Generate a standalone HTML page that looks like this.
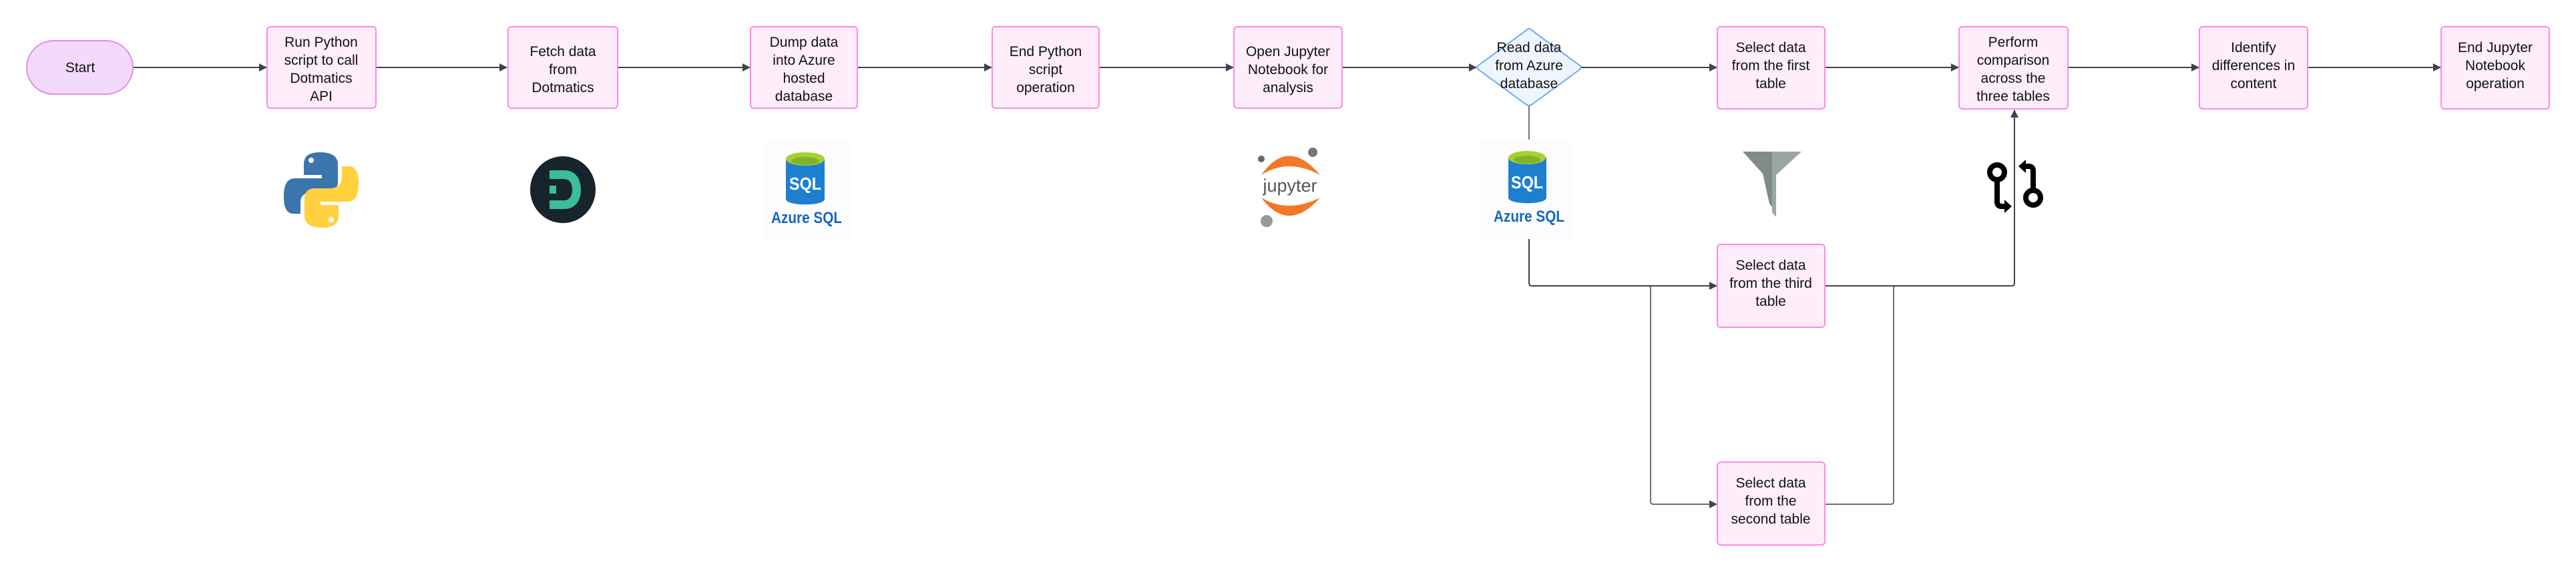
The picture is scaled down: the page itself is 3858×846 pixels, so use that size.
<!DOCTYPE html>
<html><head><meta charset="utf-8"><style>
html,body{margin:0;padding:0;background:#fff;}
svg{display:block;}
text{font-family:"Liberation Sans",sans-serif;font-size:21px;fill:#111;text-anchor:middle;}
</style></head><body>
<svg width="3858" height="846" viewBox="0 0 3858 846" xmlns="http://www.w3.org/2000/svg">
<defs>
<marker id="a" markerWidth="12" markerHeight="12" refX="11" refY="6" orient="auto" markerUnits="userSpaceOnUse">
<path d="M0,0 L12,6 L0,12 z" fill="#3a4450"/></marker>
</defs>
<g stroke="#3a4450" stroke-width="2" fill="none">
<line x1="199" y1="101" x2="399" y2="101" marker-end="url(#a)"/>
<line x1="563" y1="101" x2="759" y2="101" marker-end="url(#a)"/>
<line x1="925" y1="101" x2="1123" y2="101" marker-end="url(#a)"/>
<line x1="1284" y1="101" x2="1485" y2="101" marker-end="url(#a)"/>
<line x1="1646" y1="101" x2="1847" y2="101" marker-end="url(#a)"/>
<line x1="2010" y1="101" x2="2211" y2="101" marker-end="url(#a)"/>
<line x1="2368" y1="101" x2="2571" y2="101" marker-end="url(#a)"/>
<line x1="2733" y1="101" x2="2933" y2="101" marker-end="url(#a)"/>
<line x1="3097" y1="101" x2="3293" y2="101" marker-end="url(#a)"/>
<line x1="3456" y1="101" x2="3655" y2="101" marker-end="url(#a)"/>
<line x1="2290" y1="159" x2="2290" y2="209" stroke-width="1.5"/>
<path d="M2290,358 V424 Q2290,428 2294,428 H2571" marker-end="url(#a)"/>
<path d="M2468,428 Q2472,428 2472,432 V751 Q2472,755 2476,755 H2571" stroke-width="1.5" marker-end="url(#a)"/>
<path d="M2733,428 H3013 Q3017,428 3017,424 V165" marker-end="url(#a)"/>
<path d="M2733,755 H2832 Q2836,755 2836,751 V432 Q2836,428 2840,428" stroke-width="1.5"/>
</g>
<rect x="40" y="61" width="159" height="80" rx="40" fill="#f3d9fc" stroke="#e08cf2" stroke-width="2"/>
<text x="120" y="108">Start</text>
<g fill="#ffeefa" stroke="#ff88e6" stroke-width="2">
<rect x="400" y="40" width="163" height="122" rx="5"/>
<rect x="761" y="40" width="164" height="122" rx="5"/>
<rect x="1124" y="40" width="160" height="122" rx="5"/>
<rect x="1486" y="40" width="160" height="122" rx="5"/>
<rect x="1848" y="40" width="162" height="122" rx="5"/>
<rect x="2572" y="40" width="161" height="123" rx="5"/>
<rect x="2934" y="40" width="163" height="123" rx="5"/>
<rect x="3294" y="40" width="162" height="123" rx="5"/>
<rect x="3656" y="40" width="162" height="123" rx="5"/>
<rect x="2572" y="366" width="161" height="124" rx="5"/>
<rect x="2572" y="692" width="161" height="124" rx="5"/>
</g>
<path d="M2290,43 Q2293,43 2295,46 L2366,98 Q2369,101 2366,104 L2295,156 Q2290,160 2285,156 L2214,104 Q2211,101 2214,98 L2285,46 Q2287,43 2290,43 z" fill="#eef5ff" stroke="#6aaaf6" stroke-width="2"/>
<text x="481" y="70">Run Python</text><text x="481" y="97">script to call</text><text x="481" y="124">Dotmatics</text><text x="481" y="151">API</text>
<text x="843" y="84">Fetch data</text><text x="843" y="111">from</text><text x="843" y="138">Dotmatics</text>
<text x="1204" y="70">Dump data</text><text x="1204" y="97">into Azure</text><text x="1204" y="124">hosted</text><text x="1204" y="151">database</text>
<text x="1566" y="84">End Python</text><text x="1566" y="111">script</text><text x="1566" y="138">operation</text>
<text x="1929" y="84">Open Jupyter</text><text x="1929" y="111">Notebook for</text><text x="1929" y="138">analysis</text>
<text x="2290" y="78">Read data</text><text x="2290" y="105">from Azure</text><text x="2290" y="132">database</text>
<text x="2652" y="78">Select data</text><text x="2652" y="105">from the first</text><text x="2652" y="132">table</text>
<text x="3015" y="70">Perform</text><text x="3015" y="97">comparison</text><text x="3015" y="124">across the</text><text x="3015" y="151">three tables</text>
<text x="3375" y="78">Identify</text><text x="3375" y="105">differences in</text><text x="3375" y="132">content</text>
<text x="3737" y="78">End Jupyter</text><text x="3737" y="105">Notebook</text><text x="3737" y="132">operation</text>
<text x="2652" y="404">Select data</text><text x="2652" y="431">from the third</text><text x="2652" y="458">table</text>
<text x="2652" y="730">Select data</text><text x="2652" y="757">from the</text><text x="2652" y="784">second table</text>
<g>
<path d="M480,228 C455,228 455,240 455,250 V262 H482 V267 H442 C428,267 425,280 425,295 C425,312 430,320 440,320 H450 V303 C450,293 458,287 468,287 H492 C500,287 506,281 506,273 V245 C506,235 497,228 480,228 z" fill="#3a75ac"/>
<path d="M482,341 C507,341 507,329 507,319 V307 H480 V302 H520 C534,302 537,289 537,274 C537,257 532,249 522,249 H512 V266 C512,276 504,282 494,282 H470 C462,282 456,288 456,296 V324 C456,334 465,341 482,341 z" fill="#ffd13e"/>
<circle cx="466" cy="240" r="4" fill="#fff"/><circle cx="496" cy="329" r="4" fill="#fff"/>
</g>
<ellipse cx="843" cy="284" rx="49" ry="50" fill="#17242e"/>
<path d="M823,255 H845 C862,255 870,268 870,284 C870,300 862,313 845,313 H823 V300 H845 C853,300 857,293 857,284 C857,275 853,268 845,268 H823 z" fill="#3bbd98"/>
<rect x="823" y="278" width="10" height="12" fill="#3bbd98"/>
<g>
<rect x="1143" y="210" width="130" height="149" fill="#fcfcfe"/>
<path d="M1177,238 V298 C1177,309 1235,309 1235,298 V238 z" fill="#1e7fd1"/>
<ellipse cx="1206" cy="238" rx="29" ry="10" fill="#a8d12f"/>
<ellipse cx="1206" cy="241" rx="21" ry="6" fill="#7fb32a"/>
<text x="1206" y="284" style="font-size:26px;font-weight:bold;fill:#fff" textLength="48" lengthAdjust="spacingAndGlyphs">SQL</text>
<text x="1208" y="334" style="font-size:24px;font-weight:bold;fill:#1666c0" textLength="106" lengthAdjust="spacingAndGlyphs">Azure SQL</text>
</g>
<g>
<rect x="2219" y="209" width="134" height="149" fill="#fcfcfe"/>
<path d="M2259,236 V296 C2259,307 2316,307 2316,296 V236 z" fill="#1e7fd1"/>
<ellipse cx="2287" cy="236" rx="28" ry="10" fill="#a8d12f"/>
<ellipse cx="2287" cy="239" rx="20" ry="6" fill="#7fb32a"/>
<text x="2287" y="282" style="font-size:26px;font-weight:bold;fill:#fff" textLength="48" lengthAdjust="spacingAndGlyphs">SQL</text>
<text x="2290" y="332" style="font-size:24px;font-weight:bold;fill:#1666c0" textLength="106" lengthAdjust="spacingAndGlyphs">Azure SQL</text>
</g>
<circle cx="1889" cy="238" r="5" fill="#666"/>
<circle cx="1966" cy="228" r="7" fill="#777"/>
<circle cx="1897" cy="331" r="9" fill="#999"/>
<path d="M1889,262 Q1929,205 1977,262 Q1929,236 1889,262 z" fill="#f37726"/>
<path d="M1889,296 Q1929,350 1977,296 Q1929,320 1889,296 z" fill="#f37726"/>
<text x="1932" y="287" style="font-size:27px;fill:#555">jupyter</text>
<path d="M2610,227 H2654 V310 L2650,305 L2640,260 z" fill="#7f8b88"/>
<path d="M2654,227 H2698 L2660,262 V325 L2654,318 z" fill="#9aa6a3"/>
<g fill="none" stroke="#000" stroke-width="8">
<circle cx="2991" cy="258" r="11"/>
<circle cx="3045" cy="296" r="11"/>
<path d="M2991,269 V302 Q2991,309 2998,309 H3004"/>
<path d="M3045,285 V256 Q3045,249 3038,249 H3032"/>
</g>
<path d="M3002,299 L3013,309 L3002,319 z" fill="#000"/>
<path d="M3034,239 L3023,249 L3034,259 z" fill="#000"/>
</svg>
</body></html>
